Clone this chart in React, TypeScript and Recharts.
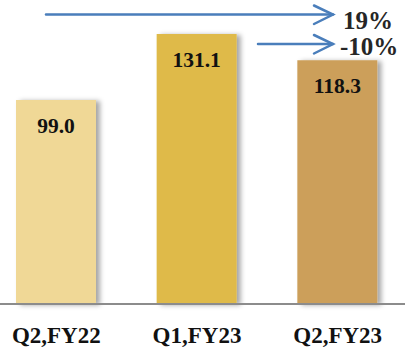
import React from 'react';
import { BarChart, Bar, XAxis, YAxis, Cell, LabelList } from 'recharts';

const categories = ['Q2,FY22', 'Q1,FY23', 'Q2,FY23'];
const revenue = [99.0, 131.1, 118.3];
const barColors = ['#F0D896', '#DFBA48', '#CC9F5A'];

const data = categories.map((name, i) => ({ name, value: revenue[i] }));

// growth figures shown next to the arrows
const pct = (a: number, b: number) => `${Math.round((b / a - 1) * 100)}%`;
const yoy = pct(revenue[0], revenue[2]);
const qoq = pct(revenue[1], revenue[2]);

const serif = '"Liberation Serif", "DejaVu Serif", serif';
const arrowBlue = '#4A7EBB';

const ValueLabel = (props: any) => {
  const { x, y, width, value } = props;
  return (
    <text
      x={x + width / 2}
      y={y + 33}
      textAnchor="middle"
      fontFamily={serif}
      fontWeight="bold"
      fontSize={21.5}
      fill="#111"
    >
      {Number(value).toFixed(1)}
    </text>
  );
};

const CategoryTick = (props: any) => {
  const { x, y, payload } = props;
  return (
    <text
      x={x}
      y={y + 39}
      textAnchor="middle"
      fontFamily={serif}
      fontWeight="bold"
      fontSize={23}
      fill="#111"
    >
      {payload.value}
    </text>
  );
};

const Arrow = ({ x1, x2, y }: { x1: number; x2: number; y: number }) => (
  <g stroke={arrowBlue} strokeWidth={2.5} fill="none" strokeLinecap="round">
    <line x1={x1} y1={y} x2={x2} y2={y} />
    <polyline points={`${x2 - 19},${y - 9} ${x2},${y} ${x2 - 19},${y + 9.5}`} />
  </g>
);

export default function App() {
  return (
    <div style={{ position: 'relative', width: 405, height: 351, overflow: 'hidden', background: '#fff' }}>
      <style>{'body{margin:0}'}</style>
      <BarChart
        width={422}
        height={351}
        data={data}
        margin={{ top: 0, right: 0, bottom: 0, left: 0 }}
        style={{ position: 'absolute', left: -14, top: 0 }}
      >
        <defs>
          <filter id="barShadow" x="-10%" y="-5%" width="130%" height="110%">
            <feDropShadow dx={4} dy={1} stdDeviation={2.5} floodColor="#000" floodOpacity={0.35} />
          </filter>
        </defs>
        <YAxis hide domain={[0, 147.6]} />
        <XAxis
          dataKey="name"
          height={47}
          tickLine={false}
          tickSize={0}
          tickMargin={0}
          axisLine={{ stroke: '#8c8c8c', strokeWidth: 2 }}
          tick={<CategoryTick />}
          interval={0}
        />
        <Bar dataKey="value" barSize={80} isAnimationActive={false} filter="url(#barShadow)">
          {data.map((d, i) => (
            <Cell key={d.name} fill={barColors[i]} />
          ))}
          <LabelList dataKey="value" content={<ValueLabel />} />
        </Bar>
      </BarChart>
      <svg width={405} height={351} style={{ position: 'absolute', left: 0, top: 0, pointerEvents: 'none' }}>
        <Arrow x1={46} x2={333} y={14.5} />
        <Arrow x1={258} x2={333} y={44} />
        <text x={343} y={28.5} fontFamily={serif} fontWeight="bold" fontSize={25} fill="#262626">
          {yoy}
        </text>
        <text x={340} y={54.5} fontFamily={serif} fontWeight="bold" fontSize={25} fill="#262626">
          {qoq}
        </text>
      </svg>
    </div>
  );
}
